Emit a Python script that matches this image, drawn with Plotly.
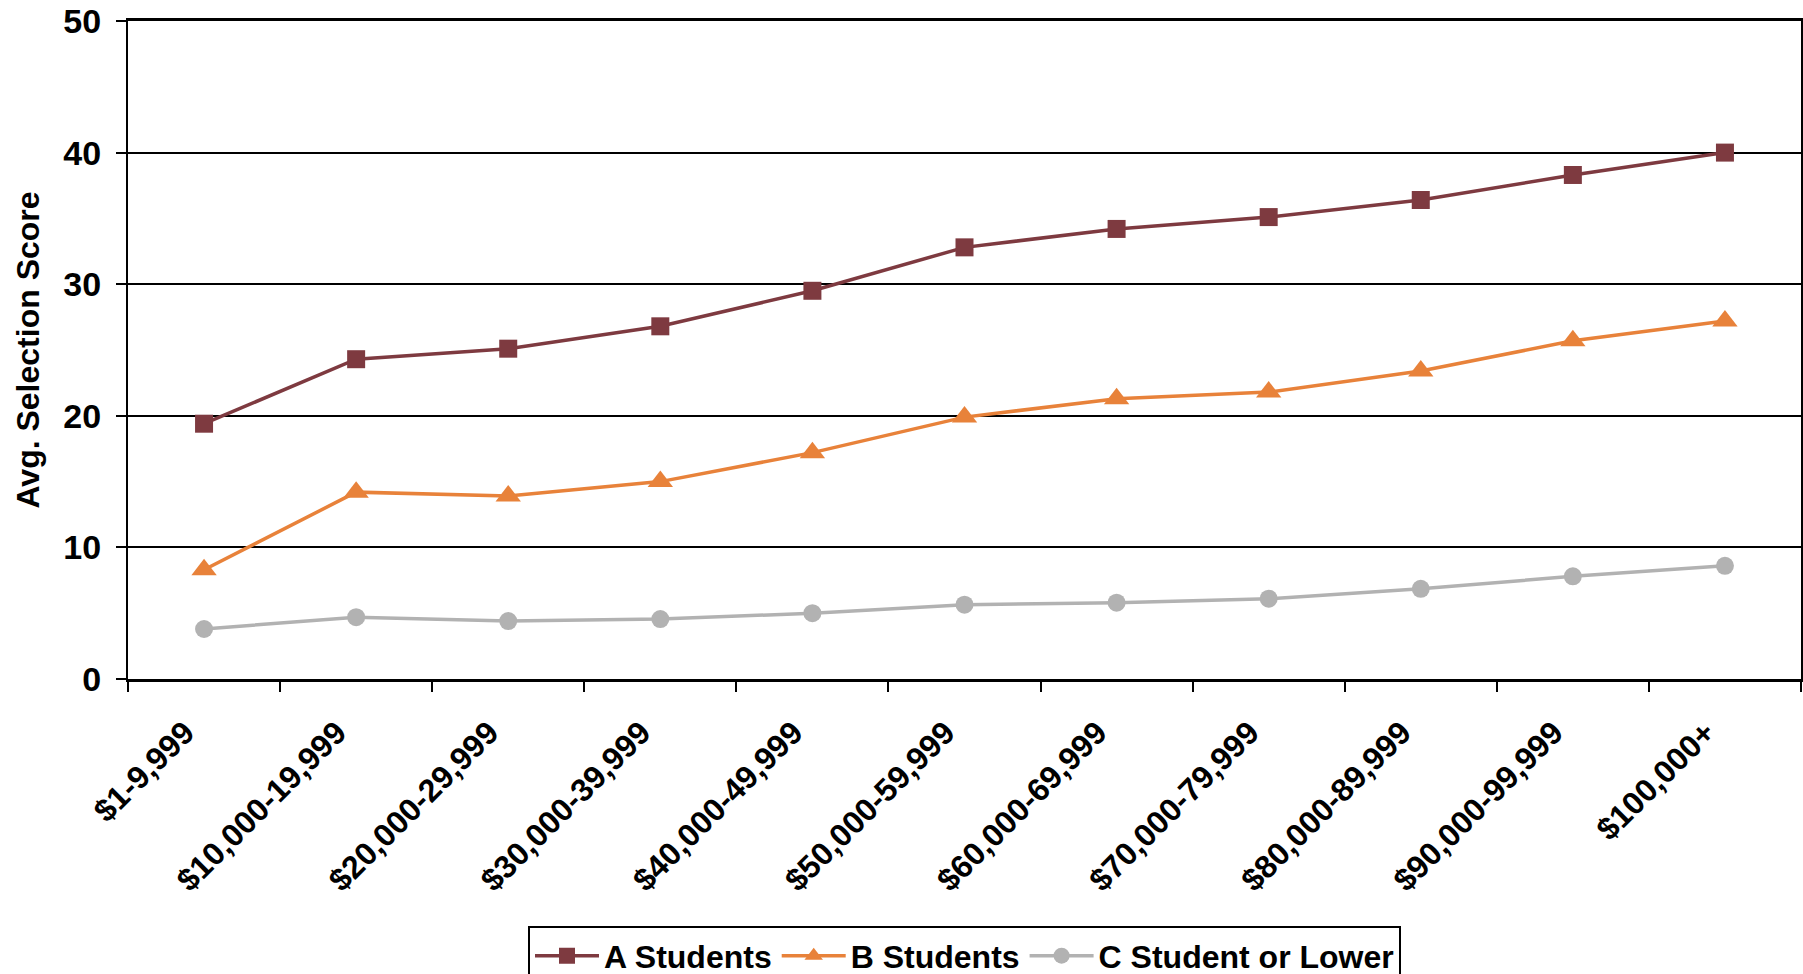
import plotly.graph_objects as go

categories = ["$1-9,999", "$10,000-19,999", "$20,000-29,999", "$30,000-39,999",
              "$40,000-49,999", "$50,000-59,999", "$60,000-69,999", "$70,000-79,999",
              "$80,000-89,999", "$90,000-99,999", "$100,000+"]
a_students = [19.4, 24.3, 25.1, 26.8, 29.5, 32.8, 34.2, 35.1, 36.4, 38.3, 40.0]
b_students = [8.3, 14.2, 13.9, 15.0, 17.2, 19.9, 21.3, 21.8, 23.4, 25.7, 27.2]
c_students = [3.8, 4.7, 4.4, 4.55, 5.0, 5.65, 5.8, 6.1, 6.85, 7.8, 8.6]
y_ticks = [0, 10, 20, 30, 40, 50]

FONT = "Liberation Sans, Arial, sans-serif"

fig = go.Figure()
fig.add_trace(go.Scatter(x=categories, y=a_students, name="A Students", mode="lines+markers",
                         line=dict(color="#7E3A40", width=3.5),
                         marker=dict(symbol="square", size=18, color="#7E3A40")))
fig.add_trace(go.Scatter(x=categories, y=b_students, name="B Students", mode="lines+markers",
                         line=dict(color="#E8823A", width=3.5),
                         marker=dict(symbol="triangle-up", size=22, color="#E8823A")))
fig.add_trace(go.Scatter(x=categories, y=c_students, name="C Student or Lower", mode="lines+markers",
                         line=dict(color="#B2B2B2", width=3.5),
                         marker=dict(symbol="circle", size=18, color="#B2B2B2")))

fig.update_layout(
    width=1803, height=974,
    margin=dict(l=128, r=2, t=21, b=295, autoexpand=False),
    plot_bgcolor="white", paper_bgcolor="white",
    font=dict(family=FONT, color="black", size=32, weight="bold"),
    showlegend=True,
    legend=dict(orientation="h", xanchor="center", x=0.5, yanchor="top", y=-0.376,
                bordercolor="black", borderwidth=2, bgcolor="white",
                font=dict(family=FONT, size=32, color="black", weight="bold"),
                itemwidth=64),
)
fig.update_xaxes(
    type="category", range=[-0.5, 10.5], automargin=False,
    tickangle=-45, tickson="boundaries",
    ticks="outside", ticklen=10, tickwidth=2, tickcolor="black",
    showline=True, linecolor="black", linewidth=3, mirror=True,
    showgrid=False, ticklabelstandoff=19, ticklabelshift=-19,
    tickfont=dict(family=FONT, size=32, color="black", weight="bold"),
)
fig.update_yaxes(
    range=[0, 50], tickvals=y_ticks, automargin=False,
    ticks="outside", ticklen=10, tickwidth=2, tickcolor="black",
    showline=True, linecolor="black", linewidth=2, mirror=True,
    showgrid=True, gridcolor="black", gridwidth=2, zeroline=False,
    ticklabelstandoff=8,
    tickfont=dict(family=FONT, size=34, color="black", weight="bold"),
    title=dict(text="Avg. Selection Score", standoff=14,
               font=dict(family=FONT, size=32, color="black", weight="bold")),
)

fig.write_html(
    "out.html",
    config={"displayModeBar": False},
    post_script=(
        "document.documentElement.style.overflow='hidden';"
        "document.body.style.margin='0';document.body.style.overflow='hidden';"
        "var gd=document.getElementById('{plot_id}');"
        "gd.style.overflow='hidden';gd.style.height='974px';"
        "gd.parentElement.style.overflow='hidden';gd.parentElement.style.height='974px';"
    ),
)
